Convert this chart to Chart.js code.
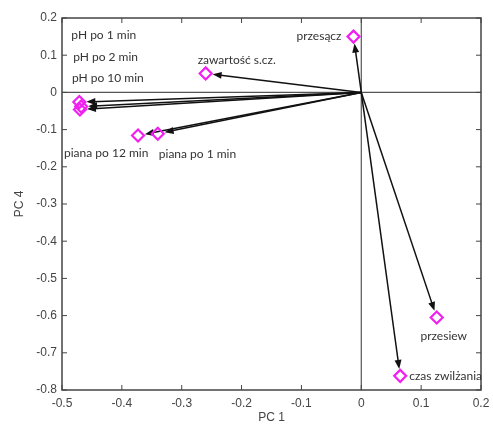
<!DOCTYPE html>
<html>
<head>
<meta charset="utf-8">
<script src="https://cdn.jsdelivr.net/npm/chart.js@4.4.1/dist/chart.umd.min.js"></script>
<style>
  html, body { margin: 0; padding: 0; background: #fff; }
  #wrap { width: 493px; height: 425px; }
</style>
</head>
<body>
<div id="wrap"><canvas id="biplot"></canvas></div>
<script>
// loadings
var names = ['pH po 1 min', 'pH po 2 min', 'pH po 10 min', 'piana po 12 min', 'piana po 1 min',
             'zawartość s.cz.', 'przesącz', 'przesiew', 'czas zwilżania'];
var pc1 = [-0.471, -0.468, -0.470, -0.373, -0.340, -0.260, -0.013, 0.126, 0.065];
var pc4 = [-0.026, -0.038, -0.046, -0.116, -0.111, 0.051, 0.150, -0.605, -0.762];

var xTicks = [-0.5, -0.4, -0.3, -0.2, -0.1, 0, 0.1, 0.2];
var yTicks = [0.2, 0.1, 0, -0.1, -0.2, -0.3, -0.4, -0.5, -0.6, -0.7, -0.8];

// where each name goes, in pixels from its marker (text align, dx, dy)
var labelPos = [
    ['left', -8, -67], ['left', -8, -49], ['left', -8, -31],
    ['left', -74, 18], ['left', 1, 20],
    ['left', -8, -13], ['right', -12, 0],
    ['center', 7, 19], ['left', 9, 0]
];

var axisColor = '#444';

var biplotPlugin = {
    id: 'biplot',
    beforeDatasetsDraw: function(chart) {
        var ctx = chart.ctx;
        var a = chart.chartArea;
        var xs = chart.scales.x, ys = chart.scales.y;
        var x0 = xs.getPixelForValue(0), y0 = ys.getPixelForValue(0);
        ctx.save();
        // zero lines
        ctx.strokeStyle = '#555';
        ctx.lineWidth = 1.2;
        ctx.beginPath();
        ctx.moveTo(x0, a.top); ctx.lineTo(x0, a.bottom);
        ctx.moveTo(a.left, y0); ctx.lineTo(a.right, y0);
        ctx.stroke();
        // box
        ctx.strokeStyle = axisColor;
        ctx.lineWidth = 1.5;
        ctx.strokeRect(a.left, a.top, a.right - a.left, a.bottom - a.top);
        // inward ticks
        ctx.lineWidth = 1;
        ctx.beginPath();
        xTicks.forEach(function(v) {
            var p = xs.getPixelForValue(v);
            ctx.moveTo(p, a.bottom); ctx.lineTo(p, a.bottom - 5);
            ctx.moveTo(p, a.top); ctx.lineTo(p, a.top + 5);
        });
        yTicks.forEach(function(v) {
            var p = ys.getPixelForValue(v);
            ctx.moveTo(a.left, p); ctx.lineTo(a.left + 5, p);
            ctx.moveTo(a.right, p); ctx.lineTo(a.right - 5, p);
        });
        ctx.stroke();
        // arrows
        ctx.strokeStyle = '#111';
        ctx.fillStyle = '#111';
        ctx.lineWidth = 1.5;
        for (var i = 0; i < pc1.length; i++) {
            var px = xs.getPixelForValue(pc1[i]);
            var py = ys.getPixelForValue(pc4[i]);
            var dx = px - x0, dy = py - y0;
            var len = Math.sqrt(dx * dx + dy * dy);
            var ux = dx / len, uy = dy / len;
            var tx = px - ux * 7, ty = py - uy * 7;
            ctx.beginPath();
            ctx.moveTo(x0, y0);
            ctx.lineTo(tx - ux * 6, ty - uy * 6);
            ctx.stroke();
            ctx.beginPath();
            ctx.moveTo(tx, ty);
            ctx.lineTo(tx - ux * 9 - uy * 3.5, ty - uy * 9 + ux * 3.5);
            ctx.lineTo(tx - ux * 9 + uy * 3.5, ty - uy * 9 - ux * 3.5);
            ctx.closePath();
            ctx.fill();
        }
        ctx.restore();
    },
    afterDatasetsDraw: function(chart) {
        var ctx = chart.ctx;
        var xs = chart.scales.x, ys = chart.scales.y;
        ctx.save();
        ctx.font = '12px Lato';
        ctx.fillStyle = '#333';
        ctx.textBaseline = 'middle';
        for (var i = 0; i < names.length; i++) {
            var px = xs.getPixelForValue(pc1[i]);
            var py = ys.getPixelForValue(pc4[i]);
            var lp = labelPos[i];
            ctx.textAlign = lp[0];
            ctx.fillText(names[i], px + lp[1], py + lp[2]);
        }
        ctx.restore();
    }
};

var ctx = document.getElementById('biplot').getContext('2d');
var chart = new Chart(ctx, {
    type: 'scatter',
    data: {
        datasets: [{
            data: pc1.map(function(v, i) { return {x: v, y: pc4[i]}; }),
            pointStyle: 'rectRot',
            pointRadius: 6,
            pointBorderWidth: 2.2,
            borderColor: '#f020f0',
            backgroundColor: 'rgba(255,255,255,0)'
        }]
    },
    options: {
        responsive: true,
        maintainAspectRatio: false,
        animation: false,
        layout: { padding: { left: 12, top: 18, right: 12, bottom: 0 } },
        plugins: {
            legend: { display: false },
            tooltip: { enabled: false }
        },
        scales: {
            x: {
                type: 'linear',
                min: -0.5, max: 0.2,
                afterBuildTicks: function(s) { s.ticks = xTicks.map(function(v) { return {value: v}; }); },
                afterFit: function(s) { s.height = 35; s.paddingLeft = 0; s.paddingRight = 0; },
                grid: { display: false, drawTicks: false },
                border: { display: false },
                ticks: {
                    color: axisColor, padding: 6,
                    font: { family: 'Liberation Sans', size: 12 },
                    callback: function(v) { return String(Math.round(v * 10) / 10); }
                },
                title: { display: true, text: 'PC 1', color: axisColor, padding: 0,
                         font: { family: 'Liberation Sans', size: 12 } }
            },
            y: {
                type: 'linear',
                min: -0.8, max: 0.2,
                afterBuildTicks: function(s) { s.ticks = yTicks.map(function(v) { return {value: v}; }); },
                afterFit: function(s) { s.width = 50; s.paddingTop = 0; s.paddingBottom = 0; },
                grid: { display: false, drawTicks: false },
                border: { display: false },
                ticks: {
                    color: axisColor, padding: 5,
                    font: { family: 'Liberation Sans', size: 12 },
                    callback: function(v) { return String(Math.round(v * 10) / 10); }
                },
                title: { display: true, text: 'PC 4', color: axisColor, padding: 0,
                         font: { family: 'Liberation Sans', size: 12 } }
            }
        }
    },
    plugins: [biplotPlugin]
});
</script>
</body>
</html>
